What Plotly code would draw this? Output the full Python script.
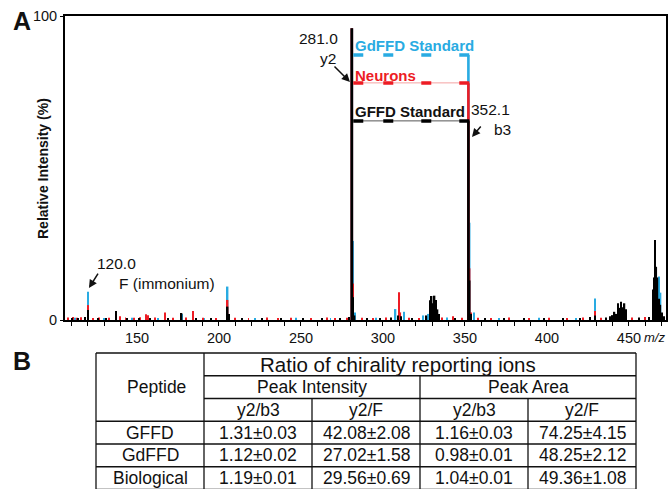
import plotly.graph_objects as go

W, H = 668, 489
BLUE, RED, BLACK = "#29ABE2", "#ED1C24", "#000000"

# ---------------- Spectrum data (m/z, relative intensity %) ----------------
gffd_mz = [110.5, 114, 118, 120.3, 126, 131, 137.2, 144, 151, 158, 169, 177.2, 186, 195,
           205.3, 206.0, 214, 226, 238, 251, 263, 274, 279.5, 281.0, 281.9, 282.7, 290, 298,
           305, 309.2, 311.0, 318, 326.5, 328.8, 329.7, 330.6, 331.5, 332.4, 333.3, 334.2,
           344, 352.1, 352.9, 353.8, 362, 374, 386, 398, 410, 420, 426, 429.2, 436, 438.5,
           440, 441.2, 442.3, 443.3, 444.3, 445.3, 446.3, 447.3, 448.3, 456, 462, 464.8,
           465.5, 466.0, 466.7, 467.4, 468.3, 469.2, 470.2, 471.2]
gffd_int = [0.6, 0.5, 1.0, 3.3, 0.5, 0.6, 3.0, 0.5, 0.6, 0.5, 0.6, 2.3, 0.5, 0.6,
            4.4, 2.0, 0.5, 0.6, 0.5, 0.6, 0.5, 0.6, 1.0, 96, 7.5, 1.5, 0.6, 0.5,
            0.8, 1.5, 1.2, 0.6, 1.5, 6.5, 7.9, 5.5, 8.0, 6.6, 3.5, 2.0,
            0.6, 65.5, 13, 2.0, 0.5, 0.6, 0.5, 0.6, 0.5, 0.6, 1.0, 1.5, 0.8, 1.2,
            1.6, 2.7, 2.0, 5.5, 4.0, 6.0, 4.2, 5.5, 3.5, 0.8, 1.0, 10,
            14, 26.3, 17.5, 14, 7, 5, 2.5, 1.2]

neur_mz = [108, 111, 113.5, 116, 120.3, 123, 127, 133, 139.6, 143, 148, 152, 155.5, 156.8,
           161, 167, 172, 180, 184.3, 190, 198, 205.3, 210, 218, 229, 236, 244, 256, 266,
           271, 278, 281.0, 281.9, 287, 294, 302, 309.8, 310.6, 316, 322, 336, 342.5, 348,
           352.1, 352.9, 353.8, 358, 366, 377, 389, 401, 412, 422, 429.2, 433, 452, 459.8,
           466.0]
neur_int = [0.8, 1.0, 0.7, 0.9, 4.9, 0.6, 0.8, 0.7, 1.2, 0.8, 0.7, 0.9, 1.9, 1.6,
            0.8, 2.5, 0.7, 0.8, 3.0, 0.7, 0.6, 6.6, 0.7, 0.6, 0.8, 0.6, 0.7, 0.6, 0.8,
            0.6, 0.7, 96, 12, 0.7, 0.6, 0.8, 9.1, 2.5, 0.7, 0.6, 0.8, 1.2, 0.7,
            78, 17, 2.5, 0.7, 0.6, 0.8, 0.6, 0.7, 0.6, 0.8, 3.0, 0.7, 0.8, 1.0,
            4.0]

gdffd_mz = [112, 120.3, 130, 137.2, 147, 163, 177.5, 191, 205.3, 222, 247, 268, 281.0,
            281.9, 282.8, 296, 307.7, 313.0, 324.6, 327.8, 339, 352.1, 352.9, 355.5, 371,
            395, 418, 429.2, 443, 466.0, 467.0, 468.5, 469.3]
gdffd_int = [0.7, 9.3, 0.6, 2.5, 0.7, 0.6, 2.0, 0.6, 11, 0.6, 0.7, 0.6, 96,
             26, 2.5, 0.7, 3.6, 2.7, 1.5, 2.0, 0.8, 87.2, 32, 2.5, 0.6,
             0.7, 0.6, 7.1, 1.0, 10, 12, 14.3, 9]

x_tick_vals = [150, 200, 250, 300, 350, 400, 450]
y_tick_vals = [0, 100]
Y2_MZ, B3_MZ, F_MZ = 281.0, 352.1, 120.3

# ---------------- Table data ----------------
peptides = ["GFFD", "GdFFD", "Biological"]
pi_y2b3 = ["1.31±0.03", "1.12±0.02", "1.19±0.01"]
pi_y2f = ["42.08±2.08", "27.02±1.58", "29.56±0.69"]
pa_y2b3 = ["1.16±0.03", "0.98±0.01", "1.04±0.01"]
pa_y2f = ["74.25±4.15", "48.25±2.12", "49.36±1.08"]

FONT = "Liberation Sans, Arial, sans-serif"
NARROW = "Liberation Sans Narrow, Arial Narrow, Liberation Sans, sans-serif"


def px(x):
    return x / W


def py(y):
    return 1 - y / H


def widths(vals):
    return [1.6 if v > 50 else (0.9 if v > 1.3 else 0.6) for v in vals]


fig = go.Figure()
series = [(gdffd_mz, gdffd_int, BLUE), (neur_mz, neur_int, RED), (gffd_mz, gffd_int, BLACK)]
for mz, inten, col in series:
    fig.add_trace(go.Bar(x=mz, y=inten, width=widths(inten),
                         marker=dict(color=col, line=dict(width=0)),
                         showlegend=False, hoverinfo="skip", xaxis="x", yaxis="y"))

# bracket lines at the b3 height of each sample
brackets = [(gdffd_mz, gdffd_int, BLUE, None),
            (neur_mz, neur_int, RED, "#F4A3A3"),
            (gffd_mz, gffd_int, BLACK, "#555555")]
for mz, inten, col, thin in brackets:
    h = inten[mz.index(B3_MZ)]
    xs = [Y2_MZ + 0.9, B3_MZ + 0.8]
    if thin:
        fig.add_trace(go.Scatter(x=xs, y=[h, h], mode="lines", line=dict(color=thin, width=1),
                                 showlegend=False, hoverinfo="skip"))
    fig.add_trace(go.Scatter(x=xs, y=[h, h], mode="lines",
                             line=dict(color=col, width=3.5, dash="10px,20px,10px,28px,10px,28px"),
                             showlegend=False, hoverinfo="skip"))

# ---------------- Table drawing (axes x2/y2, units = cells) ----------------
col_w, row_h = 108.0, 22.75
tab_left, tab_top = 96.0, 353.0
dx0, dx1 = 90.0, 642.0
dy0, dy1 = 347.0, 489.0
x2_range = [(dx0 - tab_left) / col_w, (dx1 - tab_left) / col_w]
y2_range = [(dy1 - tab_top) / row_h, (dy0 - tab_top) / row_h]

shapes = []
hlines = [(0, 0, 5), (1, 1, 5), (2, 1, 5), (3, 0, 5), (4, 0, 5), (5, 0, 5), (6, 0, 5)]
vlines = [(0, 0, 6), (1, 0, 6), (2, 2, 6), (3, 1, 6), (4, 2, 6), (5, 0, 6)]
for r, c0, c1 in hlines:
    shapes.append(dict(type="line", xref="x2", yref="y2", x0=c0, x1=c1, y0=r, y1=r,
                       line=dict(color="#111111", width=1.3)))
for c, r0, r1 in vlines:
    shapes.append(dict(type="line", xref="x2", yref="y2", x0=c, x1=c, y0=r0, y1=r1,
                       line=dict(color="#111111", width=1.3)))

ann = []
TF = dict(family=FONT, size=17.5, color="#111111")


def cell(text, x, y, font=TF, **kw):
    ann.append(dict(text=text, x=x, y=y, xref="x2", yref="y2", showarrow=False,
                    font=font, xanchor="center", yanchor="middle", **kw))


cell("Ratio of chirality reporting ions", 3.0, 0.5, font=dict(TF, size=20.5), xshift=-22)
cell("Peak Intensity", 2.0, 1.5)
cell("Peak Area", 4.0, 1.5)
cell("Peptide", 0.5, 1.5, xshift=6)
for i, lab in enumerate(["y2/b3", "y2/F", "y2/b3", "y2/F"]):
    cell(lab, 1.5 + i, 2.5)
for r, (p, a, b, c, d) in enumerate(zip(peptides, pi_y2b3, pi_y2f, pa_y2b3, pa_y2f)):
    for ci, t in enumerate([p, a, b, c, d]):
        cell(t, 0.5 + ci, 3.5 + r)

# ---------------- Spectrum annotations ----------------
AF = dict(family=FONT, size=15.5, color="#111111")
BF = dict(family=FONT, size=15)


def ptext(text, x, y, font, xanchor="center", **kw):
    ann.append(dict(text=text, x=px(x), y=py(y), xref="paper", yref="paper", showarrow=False,
                    font=font, xanchor=xanchor, yanchor="middle", **kw))


ptext("281.0", 340, 38, AF, xanchor="right")
ptext("y2", 338, 58, AF, xanchor="right")
ptext("352.1", 512, 110, AF, xanchor="right")
ptext("b3", 513, 129, AF, xanchor="right")
ptext("120.0", 116, 263, AF)
ptext("F (immonium)", 167, 283, AF)
ptext("<b>GdFFD Standard</b>", 353, 45, dict(BF, color=BLUE), xanchor="left")
ptext("<b>Neurons</b>", 353, 75, dict(BF, color=RED), xanchor="left")
ptext("<b>GFFD Standard</b>", 353, 112, dict(BF, color="#111111"), xanchor="left")
ptext("<b>A</b>", 22, 21, dict(family=FONT, size=25, color="#111111"))
ptext("<b>B</b>", 22, 361, dict(family=FONT, size=25, color="#111111"))
ptext("<b>Relative Intensity (%)</b>", 43, 168, dict(family=FONT, size=14, color="#111111"),
      textangle=-90)
ptext("<i>m/z</i>", 667, 337, dict(family=NARROW, size=13, color="#111111"), xanchor="right")

# arrows (head at the ion, tail offset in px)
for hx, hy, ax, ay in [(279.9, 78.3, -17, -17), (354.3, 60.2, 10, -12), (120.7, 10.5, 10, -16)]:
    ann.append(dict(text="", x=hx, y=hy, xref="x", yref="y", ax=ax, ay=ay, showarrow=True,
                    arrowhead=2, arrowsize=1.1, arrowwidth=1.5, arrowcolor="#111111"))

fig.update_layout(
    width=W, height=H, margin=dict(l=0, r=0, t=0, b=0, autoexpand=False),
    paper_bgcolor="white", plot_bgcolor="white", barmode="overlay",
    xaxis=dict(domain=[px(65), px(666)], range=[106.1, 472.6], automargin=False,
               tickvals=x_tick_vals, ticktext=[str(v) for v in x_tick_vals],
               ticks="outside", ticklen=4, tickwidth=1.3, tickcolor="black",
               minor=dict(dtick=10, tick0=100, ticks="outside", ticklen=4, tickwidth=1.3,
                          tickcolor="black", showgrid=False),
               showline=True, linewidth=2, linecolor="black", mirror=True,
               showgrid=False, zeroline=False,
               tickfont=dict(family=NARROW, size=14.5, color="#111111")),
    yaxis=dict(domain=[py(320), py(16)], range=[0, 100], tickvals=y_tick_vals,
               automargin=False,
               ticks="outside", ticklen=3, tickwidth=1.3, tickcolor="black",
               showline=True, linewidth=2, linecolor="black", mirror=True,
               showgrid=False, zeroline=False,
               tickfont=dict(family=NARROW, size=14.5, color="#111111")),
    xaxis2=dict(domain=[px(dx0), px(dx1)], range=x2_range, visible=False, anchor="y2",
                fixedrange=True, automargin=False),
    yaxis2=dict(domain=[py(dy1), py(dy0)], range=y2_range, visible=False, anchor="x2",
                fixedrange=True, automargin=False),
    shapes=shapes, annotations=ann,
)

fig.write_html("out.html")
